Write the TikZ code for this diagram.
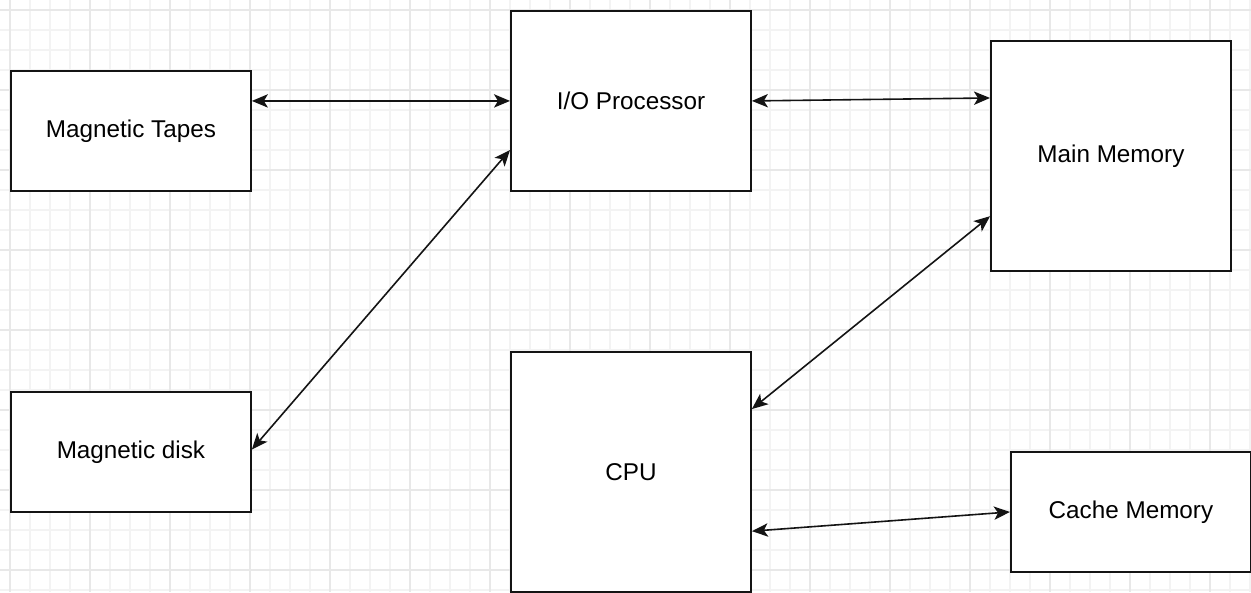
\documentclass[tikz,border=0pt]{standalone}
\usepackage{fontspec}
\setmainfont{Liberation Sans}
\usetikzlibrary{arrows.meta,calc}
\definecolor{gridminor}{HTML}{F3F3F3}
\definecolor{gridmajor}{HTML}{E8E8E8}
\definecolor{inkline}{HTML}{141414}
\tikzset{
  unitbox/.style={draw=inkline, line width=1.4pt, fill=white, rectangle,
    inner sep=0pt, anchor=north west,
    font=\fontsize{18.2}{21}\selectfont, text=black},
  link/.style={line width=1.2pt, draw=inkline,
    {Stealth[length=12pt, width=10pt, inset=3pt]}-{Stealth[length=12pt, width=10pt, inset=3pt]}}
}
\begin{document}
\begin{tikzpicture}[x=0.75pt, y=-0.75pt]
  \useasboundingbox (0,0) rectangle (1251,592);
  \fill[white] (0,0) rectangle (1251,592);
  % background grid: fine lines every 20px, heavier every 80px
  \foreach \gx in {10,30,...,1250} \draw[gridminor, line width=0.8pt] (\gx,0) -- (\gx,592);
  \foreach \gy in {10,30,...,590} \draw[gridminor, line width=0.8pt] (0,\gy) -- (1251,\gy);
  \foreach \gx in {10,90,...,1250} \draw[gridmajor, line width=0.8pt] (\gx,0) -- (\gx,592);
  \foreach \gy in {10,90,...,590} \draw[gridmajor, line width=0.8pt] (0,\gy) -- (1251,\gy);

  % blocks
  \node[unitbox, minimum width=240*0.75pt, minimum height=120*0.75pt] (tapes) at (10,70) {Magnetic Tapes};
  \node[unitbox, minimum width=240*0.75pt, minimum height=180*0.75pt] (io) at (510,10) {I/O Processor};
  \node[unitbox, minimum width=240*0.75pt, minimum height=230*0.75pt] (mem) at (990,40) {Main Memory};
  \node[unitbox, minimum width=240*0.75pt, minimum height=120*0.75pt] (disk) at (10,391) {Magnetic disk};
  \node[unitbox, minimum width=240*0.75pt, minimum height=240*0.75pt] (cpu) at (510,351) {CPU};
  \node[unitbox, minimum width=240*0.75pt, minimum height=120*0.75pt] (cache) at (1010,451) {Cache Memory};

  % connections
  \draw[link] (tapes.east |- io.west) -- (io.west);
  \draw[link] (io.east) -- ($(mem.north west)!0.25!(mem.south west)$);
  \draw[link] ($(disk.north east)!0.48!(disk.south east)$) -- ($(io.north west)!0.77!(io.south west)$);
  \draw[link] ($(cpu.north east)!0.24!(cpu.south east)$) -- ($(mem.north west)!0.76!(mem.south west)$);
  \draw[link] ($(cpu.north east)!0.745!(cpu.south east)$) -- (cache.west);
\end{tikzpicture}
\end{document}
